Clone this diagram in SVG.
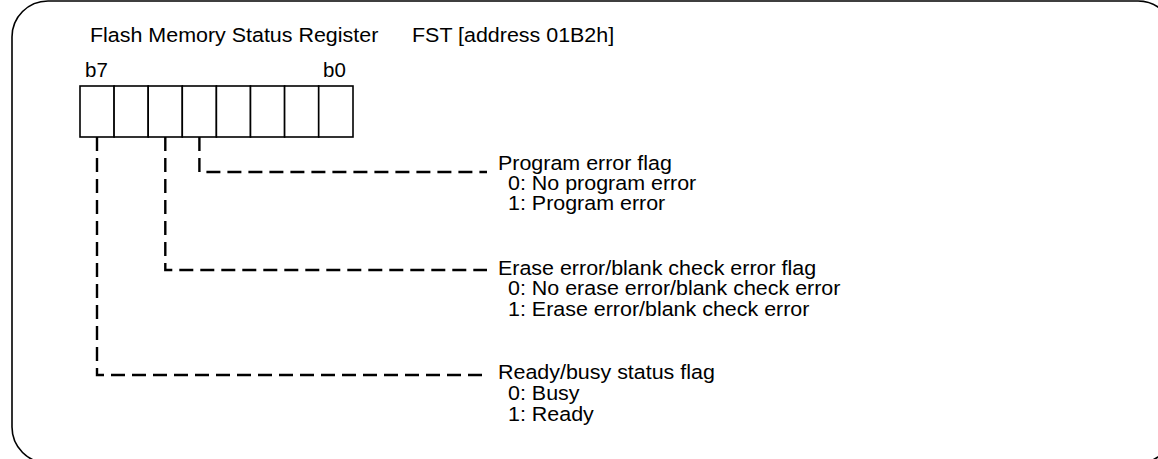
<svg xmlns="http://www.w3.org/2000/svg" width="1158" height="459" viewBox="0 0 1158 459">
  <style>
    text { font-family: "Liberation Sans", Arial, sans-serif; font-size: 19.5px; fill: #000; }
    .frame { fill: none; stroke: #000; stroke-width: 1.6; }
    .cell { fill: #fff; stroke: #000; stroke-width: 1.6; }
    .lead { fill: none; stroke: #000; stroke-width: 2.4; stroke-dasharray: 14 7; }
  </style>
  <rect width="1158" height="459" fill="#fff"/>

  <!-- outer rounded frame (runs past the right and bottom edges) -->
  <rect class="frame" x="12" y="1" width="1162" height="462" rx="36" ry="36"/>

  <!-- all labels use a slightly widened face: matrix(1.1 0 0 1 x y) -->
  <g id="title">
    <text transform="matrix(1.1 0 0 1 90 42)">Flash Memory Status Register</text>
    <text transform="matrix(1.1 0 0 1 412 42)">FST [address 01B2h]</text>
  </g>

  <!-- 8-bit register, b7 on the left -->
  <g id="register">
    <text transform="matrix(1.05 0 0 1 85 77)">b7</text>
    <text transform="matrix(1.05 0 0 1 323 77)">b0</text>
    <rect class="cell" x="80" y="86" width="34.1" height="51"/>
    <rect class="cell" x="114.1" y="86" width="34.1" height="51"/>
    <rect class="cell" x="148.2" y="86" width="34.1" height="51"/>
    <rect class="cell" x="182.3" y="86" width="34.1" height="51"/>
    <rect class="cell" x="216.4" y="86" width="34.1" height="51"/>
    <rect class="cell" x="250.5" y="86" width="34.1" height="51"/>
    <rect class="cell" x="284.6" y="86" width="34.1" height="51"/>
    <rect class="cell" x="318.7" y="86" width="34.3" height="51"/>
  </g>

  <!-- leader lines from bits 4, 5 and 7 -->
  <g id="connectors">
    <path class="lead" d="M199.4 137 V172 H487"/>
    <path class="lead" d="M165.3 137 V270 H487"/>
    <path class="lead" d="M97 137 V375 H487"/>
  </g>

  <g id="flag-program-error">
    <text transform="matrix(1.1 0 0 1 498 170)">Program error flag</text>
    <text transform="matrix(1.1 0 0 1 508 190)">0: No program error</text>
    <text transform="matrix(1.1 0 0 1 508 210)">1: Program error</text>
  </g>

  <g id="flag-erase-error">
    <text transform="matrix(1.1 0 0 1 498 275)">Erase error/blank check error flag</text>
    <text transform="matrix(1.1 0 0 1 508 295)">0: No erase error/blank check error</text>
    <text transform="matrix(1.1 0 0 1 508 316)">1: Erase error/blank check error</text>
  </g>

  <g id="flag-ready-busy">
    <text transform="matrix(1.1 0 0 1 498 379)">Ready/busy status flag</text>
    <text transform="matrix(1.1 0 0 1 508 400)">0: Busy</text>
    <text transform="matrix(1.1 0 0 1 508 421)">1: Ready</text>
  </g>
</svg>
